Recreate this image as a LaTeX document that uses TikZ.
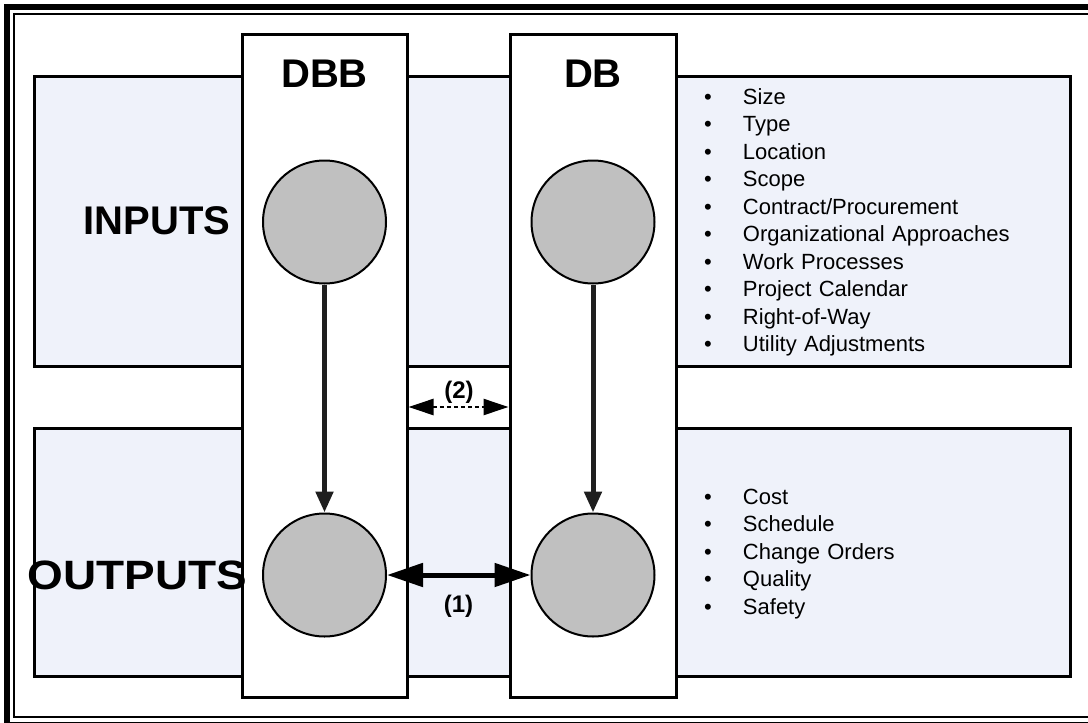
\documentclass[tikz,border=0pt]{standalone}
\usepackage{fontspec}
\setmainfont{Liberation Sans}
\usetikzlibrary{arrows.meta,positioning}
\definecolor{bandblue}{RGB}{239,242,250}
\definecolor{discgray}{RGB}{192,192,192}
\newcommand{\itembullet}{\makebox[39pt][l]{\textbullet}}

\begin{document}
\begin{tikzpicture}[x=1pt,y=-1pt,node distance=27.5pt,
	band/.style={draw,line width=3pt,fill=bandblue,inner sep=0pt,minimum width=1036pt},
	column/.style={draw,line width=3pt,fill=white,minimum width=165pt,minimum height=663pt,inner sep=0pt},
	disc/.style={draw,circle,line width=2pt,fill=discgray,minimum size=123pt,inner sep=0pt},
	title/.style={font=\fontsize{40}{40}\selectfont\bfseries},
	item/.style={font=\fontsize{22}{24}\selectfont,text width=330pt,align=left,inner sep=0pt,text height=16pt,text depth=5pt},
	flow/.style={line width=5pt,draw=black!88,-{Triangle[length=21pt,width=17pt]}},
	lab/.style={font=\fontsize{24}{24}\selectfont\bfseries}
]
\useasboundingbox (0,0) rectangle (1088,723);
\clip (0,0) rectangle (1088,723);
\fill[white] (0,0) rectangle (1088,723);
% frame
\draw[line width=6pt] (7,7) rectangle (1110,725);
\draw[line width=2pt] (13.5,13.5) rectangle (1104,716.5);
% bands
\node[band,minimum height=290pt] (inband) at (552,221) {};
\node[band,minimum height=248pt] (outband) at (552,552) {};
% columns
\node[column] (dbb) at (324.5,365.5) {};
\node[column,minimum width=166pt] (db) at (593,365.5) {};
\node[title] (dbbt) at (324.5,73.5) {DBB};
\node[title] (dbt) at (593,73.5) {DB};
\node[title] (inlab) at (157,221) {INPUTS};
\node[title,font=\fontsize{41}{41}\selectfont\bfseries] (outlab) at (137.5,575) {\scalebox{1.12}[1]{OUTPUTS}};
% discs
\node[disc] (dbbin) at (324.5,222) {};
\node[disc] (dbbout) at (324.5,575) {};
\node[disc] (dbin) at (593,222) {};
\node[disc] (dbout) at (593,575) {};
\draw[flow] (dbbin) -- (dbbout);
\draw[flow] (dbin) -- (dbout);
% comparisons
\draw[line width=5pt,{Triangle[length=36pt,width=23pt]}-{Triangle[length=36pt,width=23pt]}] (dbbout) -- (dbout);
\node[lab] (one) at (458.5,606) {(1)};
\coordinate (dashy) at (459,407);
\draw[line width=2.5pt,dash pattern=on 4pt off 3pt,{Triangle[length=25pt,width=16pt]}-{Triangle[length=25pt,width=16pt]}] (dbb.east |- dashy) -- (db.west |- dashy);
\node[lab] (two) at (459,392.5) {(2)};
% input list
\node[item] (in1) at (869,98.5) {\itembullet Size};
\node[item,below of=in1] (in2) {\itembullet Type};
\node[item,below of=in2] (in3) {\itembullet Location};
\node[item,below of=in3] (in4) {\itembullet Scope};
\node[item,below of=in4] (in5) {\itembullet Contract/Procurement};
\node[item,below of=in5] (in6) {\itembullet Organizational Approaches};
\node[item,below of=in6] (in7) {\itembullet Work Processes};
\node[item,below of=in7] (in8) {\itembullet Project Calendar};
\node[item,below of=in8] (in9) {\itembullet Right-of-Way};
\node[item,below of=in9] (in10) {\itembullet Utility Adjustments};
% output list
\node[item] (out1) at (869,498.5) {\itembullet Cost};
\node[item,below of=out1] (out2) {\itembullet Schedule};
\node[item,below of=out2] (out3) {\itembullet Change Orders};
\node[item,below of=out3] (out4) {\itembullet Quality};
\node[item,below of=out4] (out5) {\itembullet Safety};
\end{tikzpicture}
\end{document}
